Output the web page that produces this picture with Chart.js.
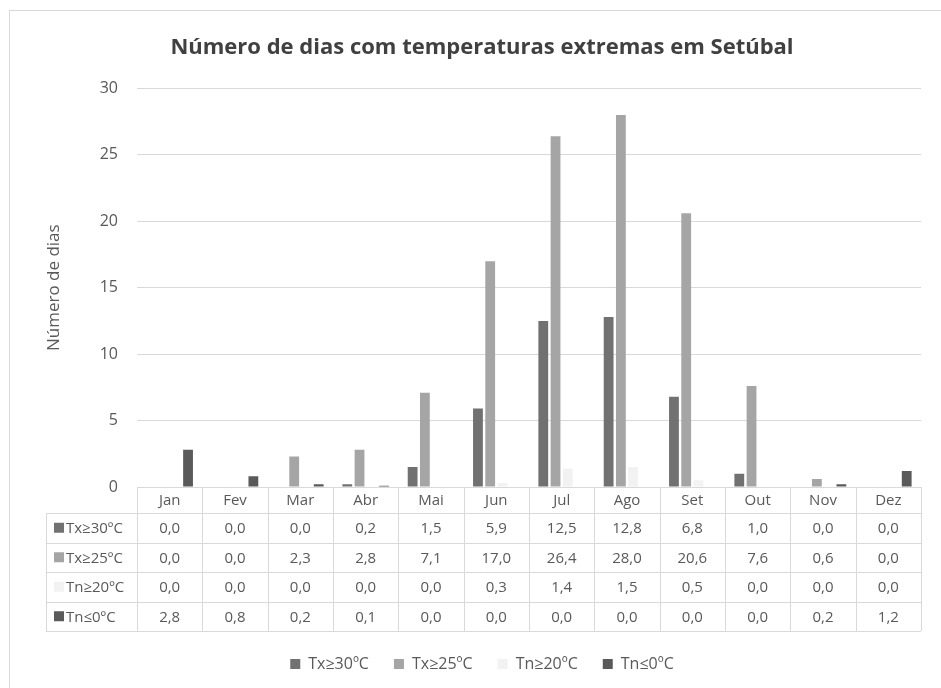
<!DOCTYPE html>
<html lang="pt">
<head>
<meta charset="utf-8">
<title>Número de dias com temperaturas extremas em Setúbal</title>
<script src="https://cdn.jsdelivr.net/npm/chart.js@4"></script>
<style>
  html, body { margin: 0; padding: 0; background: #ffffff; }
  #caixa { width: 941px; height: 688px; }
</style>
</head>
<body>
<div id="caixa"><canvas id="grafico"></canvas></div>
<script>
// dados (médias mensais de dias)
const meses = ["Jan", "Fev", "Mar", "Abr", "Mai", "Jun", "Jul", "Ago", "Set", "Out", "Nov", "Dez"];
const series = ["Tx≥30ºC", "Tx≥25ºC", "Tn≥20ºC", "Tn≤0ºC"];
const tx30 = [0.0, 0.0, 0.0, 0.2, 1.5, 5.9, 12.5, 12.8, 6.8, 1.0, 0.0, 0.0];
const tx25 = [0.0, 0.0, 2.3, 2.8, 7.1, 17.0, 26.4, 28.0, 20.6, 7.6, 0.6, 0.0];
const tn20 = [0.0, 0.0, 0.0, 0.0, 0.0, 0.3, 1.4, 1.5, 0.5, 0.0, 0.0, 0.0];
const tn0 = [2.8, 0.8, 0.2, 0.1, 0.0, 0.0, 0.0, 0.0, 0.0, 0.0, 0.2, 1.2];
const ticksY = [0, 5, 10, 15, 20, 25, 30];

const cores = ["#717171", "#a5a5a5", "#f2f2f2", "#5a5a5a"];
const corTexto = "#595959";
const corLinhas = "#d9d9d9";
const fonte = "'Open Sans', 'Noto Sans', sans-serif";

// moldura exterior do gráfico
const moldura = {
  id: 'moldura',
  beforeDraw(chart) {
    const ctx = chart.ctx;
    ctx.save();
    ctx.fillStyle = "#ffffff";
    ctx.fillRect(0, 0, chart.width, chart.height);
    ctx.strokeStyle = corLinhas;
    ctx.lineWidth = 1;
    ctx.strokeRect(9.5, 10.5, chart.width + 10, chart.height + 10);
    ctx.restore();
  }
};

// tabela de dados por baixo do eixo x
const tabelaDados = {
  id: 'tabelaDados',
  afterDraw(chart) {
    const ctx = chart.ctx;
    const escalaX = chart.scales.x;
    const area = chart.chartArea;
    const passo = (area.right - area.left) / meses.length;
    const topo = area.bottom;
    const altCab = 26;
    const altLinha = 29.5;
    const esq = 46;
    const fundo = topo + altCab + altLinha * series.length;

    ctx.save();
    ctx.strokeStyle = corLinhas;
    ctx.lineWidth = 1;

    // linhas horizontais
    ctx.beginPath();
    ctx.moveTo(area.left, Math.round(topo) + 0.5);
    ctx.lineTo(area.right, Math.round(topo) + 0.5);
    for (let i = 0; i <= series.length; i++) {
      const y = Math.round(topo + altCab + altLinha * i) + 0.5;
      ctx.moveTo(esq, y);
      ctx.lineTo(area.right, y);
    }
    // linhas verticais
    for (let j = 0; j <= meses.length; j++) {
      const x = Math.round(area.left + passo * j) + 0.5;
      ctx.moveTo(x, topo);
      ctx.lineTo(x, fundo);
    }
    ctx.moveTo(esq + 0.5, topo + altCab);
    ctx.lineTo(esq + 0.5, fundo);
    ctx.stroke();

    ctx.fillStyle = corTexto;
    ctx.font = "15px " + fonte;
    ctx.textAlign = "center";
    ctx.textBaseline = "middle";

    // cabeçalho dos meses
    meses.forEach((m, j) => {
      const x = escalaX.getPixelForValue(j);
      ctx.fillText(m, x, topo + altCab / 2 + 1);
    });

    // valores de cada série
    chart.data.datasets.forEach((ds, i) => {
      const yc = topo + altCab + altLinha * i + altLinha / 2 + 1;
      ds.data.forEach((v, j) => {
        const x = escalaX.getPixelForValue(j);
        ctx.fillStyle = corTexto;
        ctx.textAlign = "center";
        ctx.fillText(v.toFixed(1).replace(".", ","), x, yc);
      });
      // chave da legenda + nome
      ctx.fillStyle = ds.backgroundColor;
      ctx.fillRect(esq + 8, yc - 6, 10, 10);
      ctx.fillStyle = corTexto;
      ctx.textAlign = "left";
      ctx.fillText(ds.label, esq + 20, yc);
    });
    ctx.restore();
  }
};

const dadosSeries = [tx30, tx25, tn20, tn0];

const dataGrafico = {
  labels: meses,
  datasets: series.map((nome, i) => ({
    label: nome,
    data: dadosSeries[i],
    backgroundColor: cores[i],
    borderWidth: 0,
    categoryPercentage: 0.75,
    barPercentage: 0.8
  }))
};

Chart.defaults.font.family = fonte;
Chart.defaults.color = corTexto;

const graficoChart = new Chart(document.getElementById("grafico"), {
  type: 'bar',
  data: dataGrafico,
  options: {
    responsive: true,
    maintainAspectRatio: false,
    animation: false,
    layout: { padding: { top: 22, left: 43, right: 20, bottom: 6 } },
    plugins: {
      title: {
        display: true,
        text: "Número de dias com temperaturas extremas em Setúbal",
        color: "#404040",
        font: { size: 22, weight: 'bold' },
        padding: { top: 13, bottom: 27 }
      },
      legend: {
        position: 'bottom',
        labels: {
          boxWidth: 10,
          boxHeight: 10,
          padding: 25,
          font: { size: 16 },
          color: corTexto
        }
      },
      tooltip: { enabled: false }
    },
    scales: {
      x: {
        grid: { display: false },
        border: { display: false },
        ticks: { display: false },
        afterFit(scale) { scale.height = 144; }
      },
      y: {
        min: 0,
        max: 30,
        afterBuildTicks(scale) { scale.ticks = ticksY.map(v => ({ value: v })); },
        grid: { color: corLinhas, drawTicks: false },
        border: { display: false },
        ticks: { padding: 19, font: { size: 16 }, color: corTexto },
        title: {
          display: true,
          text: "Número de dias",
          font: { size: 17 },
          color: corTexto,
          padding: { top: 1, bottom: 4 }
        },
        afterFit(scale) { scale.width = 94; }
      }
    }
  },
  plugins: [moldura, tabelaDados]
});
</script>
</body>
</html>
